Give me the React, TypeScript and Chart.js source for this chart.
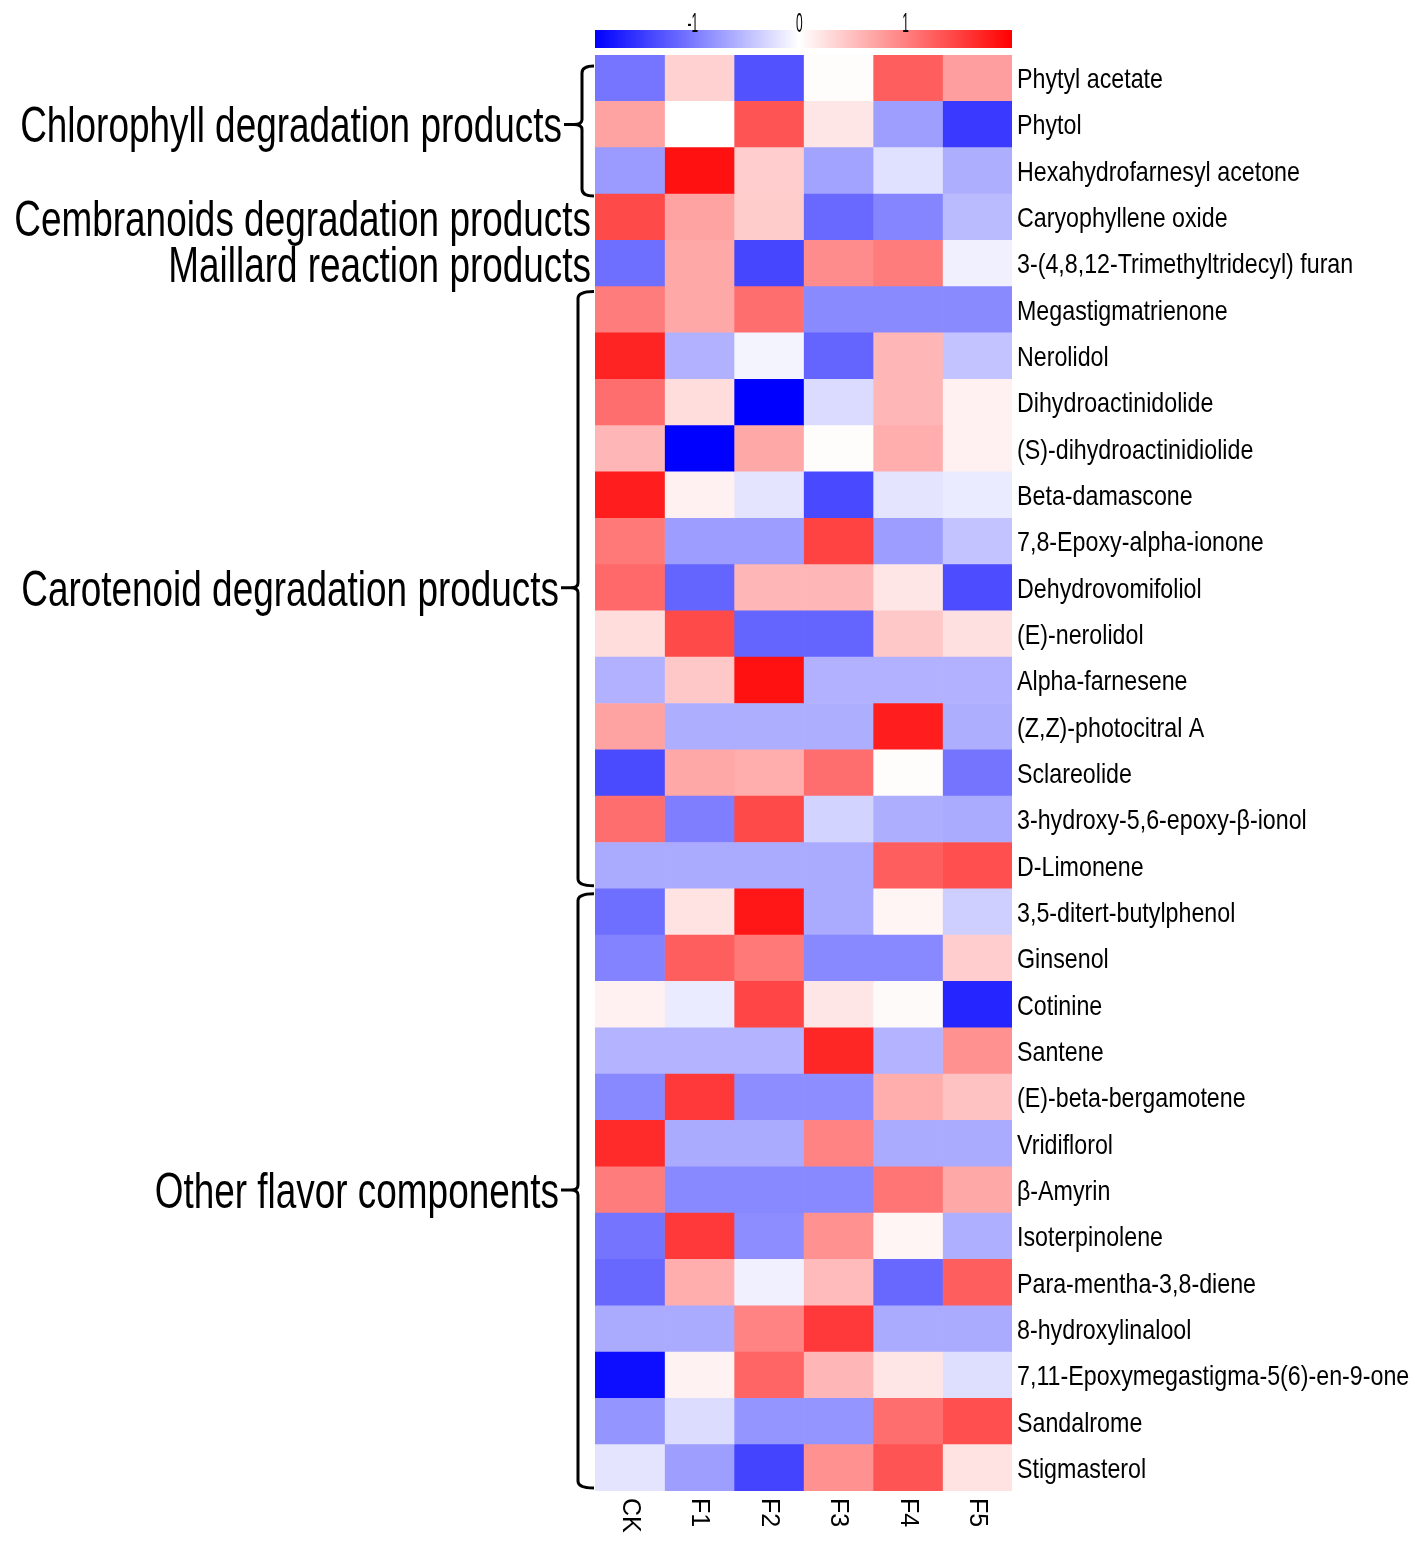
import React, { useEffect, useRef } from "react";
import { Chart, registerables } from "chart.js";

Chart.register(...registerables);

const columns = ["CK", "F1", "F2", "F3", "F4", "F5"];

const compounds = [
  "Phytyl acetate",
  "Phytol",
  "Hexahydrofarnesyl acetone",
  "Caryophyllene oxide",
  "3-(4,8,12-Trimethyltridecyl) furan",
  "Megastigmatrienone",
  "Nerolidol",
  "Dihydroactinidolide",
  "(S)-dihydroactinidiolide",
  "Beta-damascone",
  "7,8-Epoxy-alpha-ionone",
  "Dehydrovomifoliol",
  "(E)-nerolidol",
  "Alpha-farnesene",
  "(Z,Z)-photocitral A",
  "Sclareolide",
  "3-hydroxy-5,6-epoxy-β-ionol",
  "D-Limonene",
  "3,5-ditert-butylphenol",
  "Ginsenol",
  "Cotinine",
  "Santene",
  "(E)-beta-bergamotene",
  "Vridiflorol",
  "β-Amyrin",
  "Isoterpinolene",
  "Para-mentha-3,8-diene",
  "8-hydroxylinalool",
  "7,11-Epoxymegastigma-5(6)-en-9-one",
  "Sandalrome",
  "Stigmasterol",
];

const ckValues = [-1.04, 0.73, -0.75, 1.42, -1.09, 1.03, 1.72, 1.14, 0.57, 1.77, 1.05, 1.18, 0.27, -0.59, 0.73, -1.36, 1.14, -0.64, -1.09, -0.93, 0.11, -0.57, -0.89, 1.67, 1.03, -1.05, -1.14, -0.64, -1.82, -0.8, -0.2];
const f1Values = [0.36, 0.0, 1.87, 0.73, 0.68, 0.68, -0.59, 0.27, -1.95, 0.11, -0.74, -1.17, 1.42, 0.43, -0.61, 0.68, -0.97, -0.64, 0.22, 1.26, -0.15, -0.57, 1.55, -0.64, -0.89, 1.55, 0.64, -0.64, 0.1, -0.26, -0.73];
const f2Values = [-1.3, 1.34, 0.39, 0.4, -1.39, 1.14, -0.08, -1.95, 0.68, -0.2, -0.74, 0.57, -1.17, 1.87, -0.61, 0.64, 1.42, -0.64, 1.82, 1.05, 1.46, -0.57, -0.86, -0.64, -0.89, -0.86, -0.11, 0.97, 1.21, -0.8, -1.41];
const f3Values = [0.02, 0.2, -0.7, -1.13, 0.9, -0.88, -1.17, -0.27, 0.02, -1.37, 1.48, 0.57, -1.17, -0.59, -0.61, 1.14, -0.33, -0.64, -0.64, -0.89, 0.2, 1.7, -0.86, 0.97, -0.89, 0.86, 0.53, 1.55, 0.57, -0.8, 0.86];
const f4Values = [1.26, -0.73, -0.23, -0.92, 1.03, -0.88, 0.57, 0.57, 0.64, -0.2, -0.74, 0.2, 0.43, -0.59, 1.77, 0.02, -0.61, 1.26, 0.08, -0.89, 0.04, -0.57, 0.64, -0.64, 1.09, 0.08, -1.14, -0.64, 0.2, 1.14, 1.34];
const f5Values = [0.76, -1.49, -0.61, -0.52, -0.11, -0.88, -0.45, 0.11, 0.11, -0.15, -0.45, -1.34, 0.24, -0.59, -0.61, -1.05, -0.64, 1.38, -0.36, 0.39, -1.64, 0.86, 0.48, -0.64, 0.68, -0.6, 1.26, -0.64, -0.25, 1.38, 0.22];

const columnValues = [ckValues, f1Values, f2Values, f3Values, f4Values, f5Values];

const colorMin = -1.92;
const colorMax = 2.0;
const colorTicks = [-1, 0, 1];
const colorTickLabels = ["-1", "0", "1"];

// groups (row index ranges, inclusive)
const groupNames = [
  "Chlorophyll degradation products",
  "Cembranoids degradation products",
  "Maillard reaction products",
  "Carotenoid degradation products",
  "Other flavor components",
];
const groupStart = [0, 3, 4, 5, 18];
const groupEnd = [2, 3, 4, 17, 30];
const groupBracket = [true, false, false, true, true];

function colorFor(v: number): string {
  if (v >= 0) {
    const t = Math.min(v / colorMax, 1);
    const g = Math.round(255 * (1 - t));
    return `rgb(255,${g},${g})`;
  }
  const t = Math.min(v / colorMin, 1);
  const c = Math.round(255 * (1 - t));
  return `rgb(${c},${c},255)`;
}

const FONT = "'Liberation Sans', Arial, sans-serif";

function drawText(
  ctx: CanvasRenderingContext2D,
  text: string,
  x: number,
  y: number,
  size: number,
  sx: number,
  sy: number,
  align: CanvasTextAlign,
  baseline: CanvasTextBaseline,
  rot = 0
) {
  ctx.save();
  ctx.translate(x, y);
  if (rot) ctx.rotate(rot);
  ctx.scale(sx, sy);
  ctx.font = `${size}px ${FONT}`;
  ctx.fillStyle = "#000";
  ctx.textAlign = align;
  ctx.textBaseline = baseline;
  ctx.fillText(text, 0, 0);
  ctx.restore();
}

const decorPlugin = {
  id: "heatDecor",
  afterDraw(chart: any) {
    const ctx: CanvasRenderingContext2D = chart.ctx;
    const xs = chart.scales.x;
    const ys = chart.scales.y;
    const area = chart.chartArea;
    const rowH = Math.abs(ys.getPixelForValue(1) - ys.getPixelForValue(0));

    // row labels
    compounds.forEach((name, i) => {
      const cy = ys.getPixelForValue(i);
      drawText(ctx, name, area.right + 5, cy + 10, 28, 0.83, 1, "left", "alphabetic");
    });

    // column labels (rotated, reading downwards)
    columns.forEach((c, j) => {
      const cx = xs.getPixelForValue(j + 0.5);
      drawText(ctx, c, cx, area.bottom + 7, 25, 1, 1, "left", "middle", Math.PI / 2);
    });

    // colour bar
    const barTop = area.top - 25;
    const barH = 18;
    const barL = area.left;
    const barR = area.right;
    const posFor = (v: number) => barL + ((v - colorMin) / (colorMax - colorMin)) * (barR - barL);
    const grad = ctx.createLinearGradient(barL, 0, barR, 0);
    const zeroFrac = (0 - colorMin) / (colorMax - colorMin);
    grad.addColorStop(0, "rgb(0,0,255)");
    grad.addColorStop(zeroFrac, "rgb(255,255,255)");
    grad.addColorStop(1, "rgb(255,0,0)");
    ctx.save();
    ctx.fillStyle = grad;
    ctx.fillRect(barL, barTop, barR - barL, barH);
    ctx.restore();
    colorTicks.forEach((v, k) => {
      drawText(ctx, colorTickLabels[k], posFor(v), barTop + 2, 20, 0.6, 1.35, "center", "alphabetic");
    });

    // group labels and brackets
    groupNames.forEach((name, g) => {
      const yTop = ys.getPixelForValue(groupStart[g]) - rowH / 2;
      const yBot = ys.getPixelForValue(groupEnd[g]) + rowH / 2;
      const mid = (yTop + yBot) / 2;
      if (groupBracket[g]) {
        const vx = g === 0 ? area.left - 13 : area.left - 17;
        const tickX = g === 0 ? area.left - 31 : area.left - 34;
        const top = yTop + (g === 0 ? 11 : 5);
        const bot = yBot + (g === 0 ? 2 : -3);
        const r = 7;
        ctx.save();
        ctx.strokeStyle = "#000";
        ctx.lineWidth = 3;
        ctx.lineJoin = "round";
        ctx.beginPath();
        ctx.moveTo(area.left - 1, top);
        ctx.quadraticCurveTo(vx, top, vx, top + r);
        ctx.lineTo(vx, mid - 5);
        ctx.quadraticCurveTo(vx, mid, tickX + 10, mid);
        ctx.lineTo(tickX, mid);
        ctx.moveTo(tickX + 10, mid);
        ctx.quadraticCurveTo(vx, mid, vx, mid + 5);
        ctx.lineTo(vx, bot - r);
        ctx.quadraticCurveTo(vx, bot, area.left - 1, bot);
        ctx.stroke();
        ctx.restore();
        drawText(ctx, name, tickX - 2, mid + 18, 52, 0.71, 0.97, "right", "alphabetic");
      } else {
        drawText(ctx, name, area.left - 4, mid + 19, 52, 0.71, 0.97, "right", "alphabetic");
      }
    });
  },
};

export default function App() {
  const ref = useRef<HTMLCanvasElement | null>(null);

  useEffect(() => {
    document.body.style.margin = "0";
    document.body.style.overflow = "hidden";
    const canvas = ref.current;
    if (!canvas) return;
    const datasets = columns.map((col, j) => ({
      label: col,
      data: compounds.map(() => [j, j + 1]),
      backgroundColor: columnValues[j].map((v) => colorFor(v)),
      borderWidth: 0,
      barPercentage: 1,
      categoryPercentage: 1,
      grouped: false,
    }));
    const chart = new Chart(canvas, {
      type: "bar",
      data: { labels: compounds, datasets: datasets as any },
      options: {
        indexAxis: "y",
        responsive: false,
        animation: false,
        layout: { padding: { left: 595, right: 406, top: 55, bottom: 51 } },
        plugins: { legend: { display: false }, tooltip: { enabled: false } },
        scales: {
          x: { type: "linear", min: 0, max: 6, display: false },
          y: { type: "category", display: false },
        },
      },
      plugins: [decorPlugin],
    });
    return () => chart.destroy();
  }, []);

  return <canvas ref={ref} width={1418} height={1542} style={{ display: "block" }} />;
}
